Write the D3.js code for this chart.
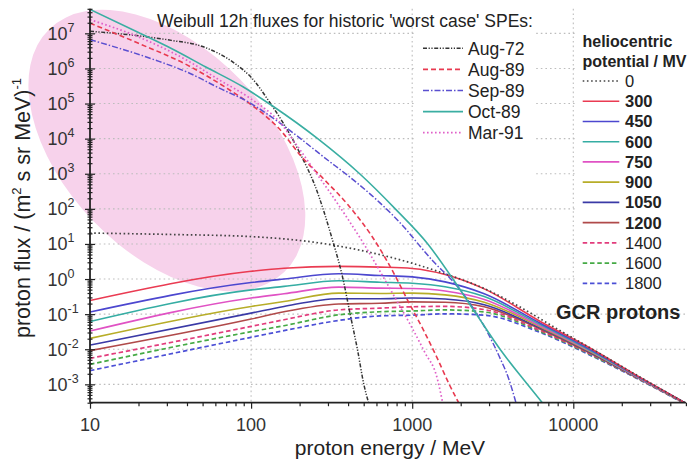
<!DOCTYPE html>
<html>
<head>
<meta charset="utf-8">
<script src="https://cdn.jsdelivr.net/npm/d3@7"></script>
<style>
  html, body { margin: 0; padding: 0; background: #fff; }
  svg { display: block; font-family: "Liberation Sans", Arial, Helvetica, sans-serif; }
</style>
</head>
<body>
<svg id="chart" width="688" height="461"></svg>
<script>
// ---------- data ----------
// Weibull 12 h fluxes of historic solar particle events: [energy MeV, flux]
const aug72 = [[10,1.15e7],[20,8.5e6],[32,6.3e6],[50,4.2e6],[79,1.4e6],[100,5.6e5],[132,1e5],[158,2.8e4],
  [200,4e3],[251,417],[316,15.8],[372,1],[412,0.1],[457,0.01],[501,0.001],[537,2.9e-4]];
const aug89 = [[10,1.95e7],[20,5.2e6],[40,1.26e6],[71,2.7e5],[100,9.3e4],[148,2e4],[209,2.8e3],[282,708],
  [398,132],[562,16.6],[741,2.0],[955,0.21],[1175,0.035],[1413,0.0063],[1698,0.001],[1950,2.9e-4]];
const sep89 = [[10,6.6e6],[25,1.78e6],[40,7.9e5],[63,2.8e5],[100,1e5],[126,5e4],[200,1.05e4],[282,3e3],
  [427,692],[631,148],[891,30],[1122,8.5],[1349,3.2],[1778,0.89],[2291,0.2],[2884,0.035],[3467,0.0063],
  [3981,0.0014],[4416,2.9e-4]];
const oct89 = [[10,4.8e7],[20,1.05e7],[32,3.7e6],[52,1.12e6],[89,3.0e5],[136,8.5e4],[259,1e4],[472,1e3],
  [785,100],[1250,10],[1790,1],[2500,0.1],[3510,0.01],[5190,0.001],[6460,2.9e-4]];
const mar91 = [[10,2.45e7],[20,7.9e6],[40,1.7e6],[63,4.8e5],[100,1.35e5],[148,3.2e4],[200,5e3],[251,1.12e3],
  [316,251],[398,52],[501,10],[631,1.66],[794,0.26],[1000,0.04],[1202,0.0079],[1413,0.0018],[1549,2.9e-4]];
const speNames = ["Aug-72", "Aug-89", "Sep-89", "Oct-89", "Mar-91"];

// GCR proton spectra for different heliocentric potentials (MV)
const gcrNoModE = [10, 32, 100, 320, 560, 1000, 1600, 2800, 4900, 7800, 12600, 25000, 50000];
const gcrNoModF = [20.4, 18.6, 16.2, 9.33, 5.62, 2.82, 1.41, 0.537, 0.141, 0.0398, 0.0112, 0.00178, 0.000288];
const gcrEnergy = [10, 100, 160, 350, 630, 1000, 1600, 2800, 6200, 12600, 25000, 50000];
const gcr300  = [0.245, 1.66, 2.04, 2.29, 2.19, 2.0, 1.35, 0.525, 0.063, 0.011, 0.00174, 0.000288];
const gcr450  = [0.115, 0.794, 1.0, 1.41, 1.26, 1.15, 0.83, 0.38, 0.056, 0.0102, 0.0017, 0.000288];
const gcr600  = [0.0617, 0.49, 0.617, 0.891, 0.813, 0.759, 0.603, 0.316, 0.0513, 0.00955, 0.00166, 0.000288];
const gcr750  = [0.0331, 0.288, 0.38, 0.589, 0.55, 0.537, 0.457, 0.263, 0.0468, 0.00912, 0.00162, 0.000288];
const gcr900  = [0.0204, 0.166, 0.229, 0.398, 0.389, 0.398, 0.355, 0.219, 0.0437, 0.00871, 0.00158, 0.000282];
const gcr1050 = [0.0132, 0.107, 0.166, 0.275, 0.275, 0.288, 0.269, 0.186, 0.0407, 0.00832, 0.00155, 0.000282];
const gcr1200 = [0.00912, 0.0724, 0.117, 0.195, 0.204, 0.224, 0.219, 0.162, 0.038, 0.00794, 0.00155, 0.000282];
const gcr1400 = [0.0055, 0.0447, 0.0692, 0.132, 0.148, 0.162, 0.166, 0.135, 0.0347, 0.00759, 0.00151, 0.000275];
const gcr1600 = [0.00372, 0.0316, 0.0468, 0.0955, 0.117, 0.123, 0.132, 0.115, 0.0324, 0.00724, 0.00148, 0.000275];
const gcr1800 = [0.00245, 0.0219, 0.0339, 0.0661, 0.0891, 0.0933, 0.102, 0.0933, 0.0302, 0.00692, 0.00145, 0.000269];
const potentials = ["0", "300", "450", "600", "750", "900", "1050", "1200", "1400", "1600", "1800"];

// axis ticks
const xMajorTicks = [10, 100, 1000, 10000];
const yExponents = [-3, -2, -1, 0, 1, 2, 3, 4, 5, 6, 7];

// ---------- layout ----------
const svg = d3.select("#chart");
const plotL = 90, plotR = 685.9, plotT = 8.8, plotB = 402.7;
const x = d3.scaleLog().domain([10, 50000]).range([plotL, plotR]);
const y = d3.scaleLog().domain([3e-4, 5e7]).range([plotB, plotT]);
const ink = "#222";

// highlighted SPE region
const cx = x(30), cy = y(4600);
svg.append("ellipse")
  .attr("cx", cx).attr("cy", cy).attr("rx", 169).attr("ry", 102)
  .attr("transform", `rotate(46,${cx},${cy})`)
  .attr("fill", "#f7d2eb");

// grid
const yMajor = yExponents.map(e => Math.pow(10, e));
const grid = svg.append("g").attr("stroke", "#bdbdbd").attr("stroke-width", 1.1)
  .attr("stroke-dasharray", "1.6,3");
grid.selectAll("line.h").data(yMajor).join("line").attr("class", "h")
  .attr("x1", plotL).attr("x2", plotR).attr("y1", d => y(d)).attr("y2", d => y(d));
grid.selectAll("line.v").data(xMajorTicks.slice(1)).join("line").attr("class", "v")
  .attr("x1", d => x(d)).attr("x2", d => x(d)).attr("y1", plotT).attr("y2", plotB);

// curves
svg.append("clipPath").attr("id", "plotClip").append("rect")
  .attr("x", plotL).attr("y", plotT).attr("width", plotR - plotL).attr("height", plotB - plotT);
const plot = svg.append("g").attr("clip-path", "url(#plotClip)").attr("fill", "none");
const line = d3.line().x(d => x(d[0])).y(d => y(d[1])).curve(d3.curveMonotoneX);

const gcrSeries = [
  { v: gcrNoModE.map((e, i) => [e, gcrNoModF[i]]), color: "#444", dash: "1.6,2.6", w: 1.7 },
  { v: gcr300,  color: "#ea3b52", dash: null, w: 1.6 },
  { v: gcr450,  color: "#4c47cf", dash: null, w: 1.6 },
  { v: gcr600,  color: "#35ada3", dash: null, w: 1.6 },
  { v: gcr750,  color: "#e052c4", dash: null, w: 1.6 },
  { v: gcr900,  color: "#b7ad28", dash: null, w: 1.6 },
  { v: gcr1050, color: "#3a3aa6", dash: null, w: 1.6 },
  { v: gcr1200, color: "#b04a4a", dash: null, w: 1.6 },
  { v: gcr1400, color: "#e23c7c", dash: "4.5,2.8", w: 1.7 },
  { v: gcr1600, color: "#45aa45", dash: "4.5,2.8", w: 1.7 },
  { v: gcr1800, color: "#4b4fd6", dash: "4.5,2.8", w: 1.7 }
].map((s, i) => ({
  ...s, name: potentials[i],
  pts: i === 0 ? s.v : gcrEnergy.map((e, j) => [e, s.v[j]])
}));

const speSeries = [
  { pts: aug72, color: "#333", dash: "4,1.6,1.2,1.6,1.2,1.6", w: 1.5 },
  { pts: aug89, color: "#e83a50", dash: "5,3", w: 1.6 },
  { pts: sep89, color: "#5a4fd0", dash: "6,2,1.5,2", w: 1.5 },
  { pts: oct89, color: "#3aaea2", dash: null, w: 1.6 },
  { pts: mar91, color: "#e060c8", dash: "1.6,2.4", w: 1.7 }
].map((s, i) => ({ ...s, name: speNames[i] }));

function drawSeries(list) {
  plot.selectAll(null).data(list).join("path")
    .attr("d", d => line(d.pts))
    .attr("stroke", d => d.color)
    .attr("stroke-width", d => d.w)
    .attr("stroke-dasharray", d => d.dash);
}
drawSeries(gcrSeries.slice().reverse());
drawSeries(speSeries);

// axes
const yMinor = [];
for (let e = -4; e <= 7; e++) for (let m = 2; m <= 9; m++) {
  const v = m * Math.pow(10, e);
  if (v >= 3e-4 && v <= 5e7) yMinor.push(v);
}
const xMinor = [];
for (let e = 1; e <= 4; e++) for (let m = 2; m <= 9; m++) {
  const v = m * Math.pow(10, e);
  if (v <= 50000) xMinor.push(v);
}

function styleAxis(g) {
  g.selectAll("path").attr("stroke", ink).attr("stroke-width", 1.8);
  g.selectAll("line").attr("stroke", ink).attr("stroke-width", 1.2);
  g.selectAll("text").remove();
}
const yAx = svg.append("g").attr("transform", `translate(${plotL},0)`);
yAx.append("g").call(d3.axisLeft(y).tickValues(yMinor).tickSize(2.5).tickSizeOuter(0)).call(styleAxis);
yAx.append("g").call(d3.axisRight(y).tickValues(yMinor).tickSize(2.5).tickSizeOuter(0)).call(styleAxis)
  .select("path").remove();
yAx.append("g").call(d3.axisLeft(y).tickValues(yMajor).tickSize(5).tickSizeOuter(0)).call(styleAxis)
  .select("path").remove();
yAx.append("g").call(d3.axisRight(y).tickValues(yMajor).tickSize(5).tickSizeOuter(0)).call(styleAxis)
  .select("path").remove();
yAx.select("g").select("path").attr("d", `M0,${plotT}V${plotB}`);

const xAx = svg.append("g").attr("transform", `translate(0,${plotB})`);
xAx.append("g").call(d3.axisBottom(x).tickValues(xMinor).tickSize(3.5).tickSizeOuter(0)).call(styleAxis);
xAx.append("g").call(d3.axisBottom(x).tickValues(xMajorTicks).tickSize(6).tickSizeOuter(0)).call(styleAxis)
  .select("path").remove();
xAx.select("g").select("path").attr("d", `M${plotL},0H${plotR}`);

// tick labels
const yLab = svg.append("g").attr("fill", "#333").attr("font-size", 18);
yExponents.forEach(e => {
  const t = yLab.append("text").attr("x", 47.5).attr("y", y(Math.pow(10, e)) + 6.5);
  t.append("tspan").text("10");
  t.append("tspan").attr("dy", -8).attr("font-size", 12.5).text(String(e));
});
svg.append("g").attr("fill", "#333").attr("font-size", 18).attr("text-anchor", "middle")
  .selectAll("text").data(xMajorTicks).join("text")
  .attr("x", d => x(d)).attr("y", 431).text(d => String(d));

// axis titles
svg.append("text").attr("x", 390).attr("y", 454.5).attr("text-anchor", "middle")
  .attr("font-size", 21).attr("fill", ink).text("proton energy / MeV");
const yt = svg.append("text").attr("transform", "translate(30,208) rotate(-90)")
  .attr("text-anchor", "middle").attr("font-size", 21.5).attr("fill", ink);
yt.append("tspan").text("proton flux / (m");
yt.append("tspan").attr("dy", -9).attr("font-size", 13).text("2");
yt.append("tspan").attr("dy", 9).text(" s sr MeV)");
yt.append("tspan").attr("dy", -9).attr("font-size", 13).text("-1");

// title
svg.append("text").attr("x", 157).attr("y", 26.5).attr("font-size", 17.5).attr("fill", ink)
  .text("Weibull 12h fluxes for historic 'worst case' SPEs:");

// SPE legend
const leg1 = svg.append("g");
leg1.append("rect").attr("x", 414).attr("y", 30).attr("width", 121).attr("height", 165).attr("fill", "#fff");
speSeries.forEach((s, i) => {
  const yy = 48.3 + i * 21.1;
  leg1.append("line").attr("x1", 423).attr("x2", 463).attr("y1", yy).attr("y2", yy)
    .attr("stroke", s.color).attr("stroke-width", s.w).attr("stroke-dasharray", s.dash);
  leg1.append("text").attr("x", 468).attr("y", yy + 6.3).attr("font-size", 17.5).attr("fill", ink).text(s.name);
});

// GCR legend
const leg2 = svg.append("g");
leg2.append("rect").attr("x", 576).attr("y", 24).attr("width", 112).attr("height", 272).attr("fill", "#fff");
leg2.append("text").attr("x", 582.5).attr("y", 47).attr("font-size", 16).attr("font-weight", "bold")
  .attr("fill", ink).text("heliocentric");
leg2.append("text").attr("x", 582.5).attr("y", 67).attr("font-size", 16).attr("font-weight", "bold")
  .attr("fill", ink).text("potential / MV");
gcrSeries.forEach((s, i) => {
  const yy = 81 + i * 20.23;
  leg2.append("line").attr("x1", 582.7).attr("x2", 619.3).attr("y1", yy).attr("y2", yy)
    .attr("stroke", s.color).attr("stroke-width", s.w).attr("stroke-dasharray", s.dash);
  leg2.append("text").attr("x", 625).attr("y", yy + 6).attr("font-size", 16.5)
    .attr("font-weight", (i >= 1 && i <= 7) ? "bold" : "normal").attr("fill", ink).text(s.name);
});
svg.append("text").attr("x", 556).attr("y", 318.8).attr("font-size", 20).attr("font-weight", "bold")
  .attr("fill", ink).text("GCR protons");
</script>
</body>
</html>
